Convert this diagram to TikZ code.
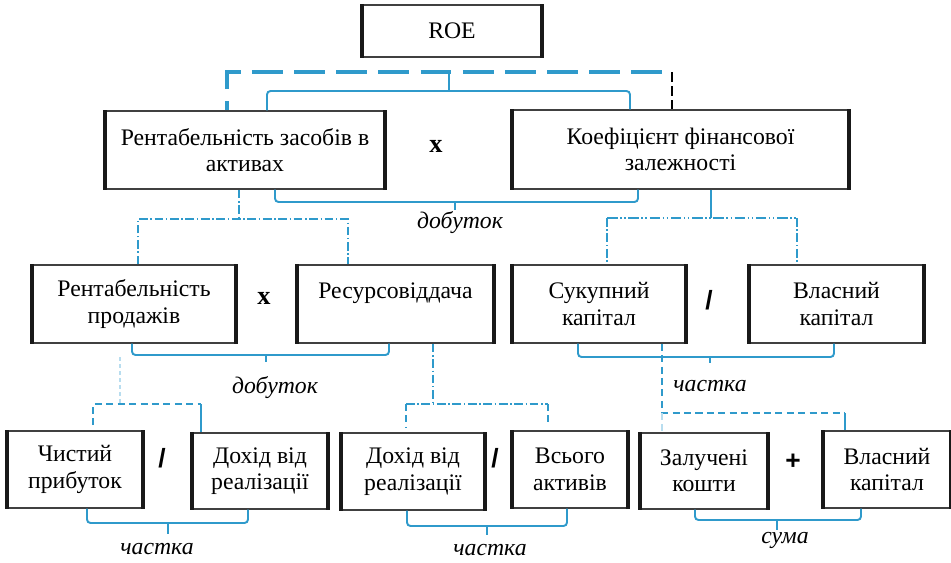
\documentclass[tikz,border=0pt]{standalone}
\usepackage{fontspec}
\setmainfont{Liberation Serif}
\newfontfamily\opfont{Liberation Sans}
\usetikzlibrary{calc}
\definecolor{lineblue}{HTML}{2F9ACB}
\definecolor{paleblue}{HTML}{B8DDEF}

\begin{document}
\begin{tikzpicture}[x=0.02cm, y=-0.02cm,
    font=\fontsize{13.5}{15}\selectfont,
    box/.style={draw=black!75, line width=0.8pt, align=center, inner sep=0pt},
    side/.style={draw=black!90, line width=2.3pt},
    brace/.style={lineblue, line width=1.1pt, rounded corners=2pt},
    thinblue/.style={lineblue, line width=1.1pt},
    bigdash/.style={lineblue, line width=2.3pt, dash pattern=on 17.5pt off 6.5pt, dash phase=12pt},
    blackdash/.style={black, line width=1.1pt, dash pattern=on 5.5pt off 2.5pt},
    dashline/.style={lineblue, line width=1.1pt, dash pattern=on 4pt off 2.5pt},
    dashdot/.style={lineblue, line width=1pt, dash pattern=on 5pt off 1.5pt on 0.8pt off 1.5pt},
    dashdotdot/.style={lineblue, line width=1pt, dash pattern=on 6pt off 1.5pt on 0.8pt off 1.5pt on 0.8pt off 1.5pt},
    lbl/.style={font=\fontsize{13.5}{15}\selectfont\itshape},
    op/.style={font=\fontsize{15}{15}\selectfont\bfseries},
    opsans/.style={font=\fontsize{15}{15}\selectfont\opfont\bfseries}]
  \useasboundingbox (0,0) rectangle (951,562);

  % boxes
  \node[box, minimum width=3.56cm, minimum height=1.04cm] (roe) at (452,31) {ROE};
  \node[box, minimum width=5.56cm, minimum height=1.56cm] (rza) at (245,150) {Рентабельність засобів в\\активах};
  \node[box, minimum width=6.70cm, minimum height=1.58cm] (kfz) at (680.5,149.5) {Коефіцієнт фінансової\\залежності};

  \node[box, minimum width=4.04cm, minimum height=1.56cm] (rp) at (134,304) {Рентабельність\\продажів};
  \node[box, minimum width=3.90cm, minimum height=1.56cm] (rv) at (395.5,304) {Ресурсовіддача\\~};
  \node[box, minimum width=3.44cm, minimum height=1.56cm] (sk) at (599,304) {Сукупний\\капітал};
  \node[box, minimum width=3.46cm, minimum height=1.56cm] (vk) at (836.5,304) {Власний\\капітал};

  \node[box, minimum width=2.68cm, minimum height=1.54cm] (chp) at (75,469.5) {Чистий\\прибуток};
  \node[box, minimum width=2.68cm, minimum height=1.52cm] (dr1) at (260,471) {Дохід від\\реалізації};
  \node[box, minimum width=2.84cm, minimum height=1.54cm] (dr2) at (413,471.5) {Дохід від\\реалізації};
  \node[box, minimum width=2.28cm, minimum height=1.54cm] (va) at (570,469.5) {Всього\\активів};
  \node[box, minimum width=2.52cm, minimum height=1.52cm] (zk) at (704,471) {Залучені\\кошти};
  \node[box, minimum width=2.52cm, minimum height=1.54cm] (vkb) at (887,469.5) {Власний\\капітал};

  \foreach \n in {roe,rza,kfz,rp,rv,sk,vk,chp,dr1,dr2,va,zk,vkb}
    \draw[side] (\n.north west) -- (\n.south west) (\n.north east) -- (\n.south east);

  % signs
  \node[op] (m1) at (436,146) {x};
  \node[op] (m2) at (264,298) {x};
  \node[opsans] (d1) at (709,300) {/};
  \node[opsans] (d2) at (162,458) {/};
  \node[opsans] (d3) at (495,458) {/};
  \node[opsans] (p1) at (793,462) {+};

  % top
  \draw[bigdash] (227,0 |- rza.north) |- (672,72);
  \draw[blackdash] (672,72) -- (672,0 |- kfz.north);
  \draw[brace] (267,0 |- rza.north) |- (630,91) -- (630,0 |- kfz.north);
  \draw[thinblue] (449,91) -- (449,73);
  \draw[brace] (275,0 |- rza.south) |- (638,202) -- (638,0 |- kfz.south);
  \draw[thinblue] (455,202) -- (455,210);
  \node[lbl] (t1) at (460,223) {добуток};

  % second level down
  \draw[dashdot] (239,0 |- rza.south) -- (239,219);
  \draw[dashdot] (138,0 |- rp.north) |- (348,219) -- (348,0 |- rv.north);
  \draw[thinblue] (711,0 |- kfz.south) -- (711,218);
  \draw[dashdotdot] (607,218) -- (797,218);
  \draw[dashdot] (607,218) -- (607,0 |- sk.north);
  \draw[dashdot] (797,218) -- (797,0 |- vk.north);

  % third level
  \draw[brace] (132,0 |- rp.south) |- (389,355) -- (389,0 |- rv.south);
  \draw[thinblue] (266,355) -- (266,362);
  \node[lbl] (t2) at (275,388) {добуток};
  \draw[brace] (578,0 |- sk.south) |- (834,357) -- (834,0 |- vk.south);
  \draw[thinblue] (710,357) -- (710,363);
  \node[lbl] (t3) at (710,386) {частка};

  \draw[paleblue, line width=1pt, dash pattern=on 2pt off 2pt] (120,357) -- (120,404);
  \draw[dashline] (93,425) |- (201,404);
  \draw[thinblue] (201,404) -- (201,0 |- dr1.north);

  \draw[dashdot] (433,0 |- rv.south) -- (433,404);
  \draw[dashdot] (406,404) -- (548,404);
  \draw[dashline] (406,404) -- (406,428);
  \draw[dashline] (548,404) -- (548,422);

  \draw[dashline] (662,0 |- sk.south) -- (662,413) -- (845,413);
  \draw[paleblue, line width=1pt, dash pattern=on 4pt off 2.5pt] (662,413) -- (662,0 |- zk.north);
  \draw[thinblue] (845,413) -- (845,0 |- vkb.north);

  % bottom
  \draw[brace] (87,0 |- chp.south) |- (248,523) -- (248,0 |- dr1.south);
  \draw[thinblue] (168,523) -- (168,534);
  \node[lbl] (t4) at (157,549) {частка};
  \draw[brace] (407,0 |- dr2.south) |- (567,526) -- (567,0 |- va.south);
  \draw[thinblue] (487,526) -- (487,535);
  \node[lbl] (t5) at (490,550) {частка};
  \draw[brace] (695,0 |- zk.south) |- (861,520) -- (861,0 |- vkb.south);
  \draw[thinblue] (777,520) -- (777,530);
  \node[lbl] (t6) at (785,540) {сума};
\end{tikzpicture}
\end{document}
